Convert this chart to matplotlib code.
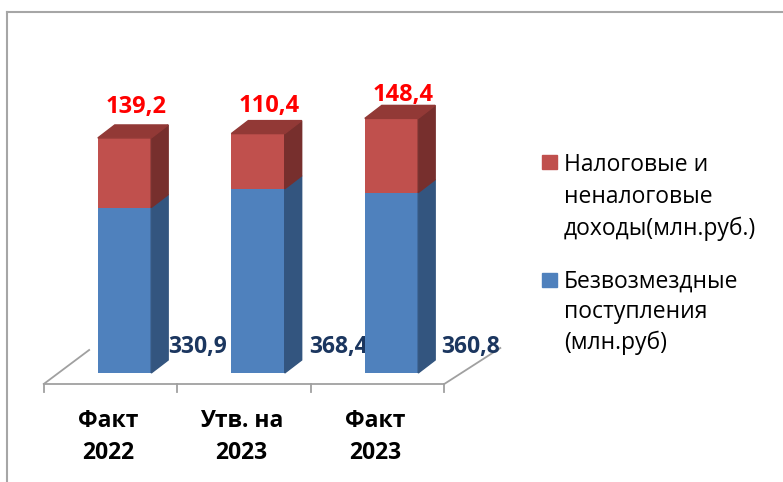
import numpy as np
import matplotlib
matplotlib.use('Agg')
import matplotlib.pyplot as plt
from matplotlib.patches import Polygon, Rectangle
from matplotlib.lines import Line2D

plt.rcParams['font.family'] = ['Open Sans', 'DejaVu Sans']

# data
categories = ['Факт\n2022', 'Утв. на\n2023', 'Факт\n2023']
gratuitous = [330.9, 368.4, 360.8]   # Безвозмездные поступления
tax_income = [139.2, 110.4, 148.4]   # Налоговые и неналоговые доходы
series_names = ['Налоговые и\nненалоговые\nдоходы(млн.руб.)',
                'Безвозмездные\nпоступления\n(млн.руб)']

# colours
blue, blue_side = '#4F81BD', '#33557F'
red, red_side, red_top = '#C0504D', '#772F2D', '#923936'
grey = '#A0A0A0'

# fake 3d geometry (data units)
bar_w = 0.4
shift = 0.105          # bars sit a bit behind the floor front edge
dx, dy = 0.127, 26     # bar depth
floor_y = -22
red_pad = [61, 56, 47]
blue_lab_x = [0.65, 0.71, 0.70]

fig = plt.figure(figsize=(7.83, 4.82), dpi=100)
ax = fig.add_axes([0, 0, 1, 1])
ax.set_xlim(-110.5 / 133.5, (783 - 110.5) / 133.5)
ax.set_ylim(-218, 746)
ax.axis('off')

x = np.arange(len(categories))
xf = x + shift

# floor
ax.plot([-0.5, 2.5], [floor_y, floor_y], color=grey, lw=1.3, zorder=1)
ax.plot([-0.5, -0.5 + 0.34], [floor_y, floor_y + 68], color=grey, lw=1.3, zorder=1)
ax.plot([2.5, 2.5 + 0.42], [floor_y, floor_y + 72], color=grey, lw=1.3, zorder=1)
for t in np.arange(-0.5, 3.0, 1.0):
    ax.plot([t, t], [floor_y, floor_y - 16], color=grey, lw=1.3, zorder=1)

# blue values under the bars
for i, v in enumerate(gratuitous):
    ax.text(i + blue_lab_x[i], 52, f'{v:.1f}'.replace('.', ','), ha='center', va='center',
            fontsize=16.5, fontweight='bold', color='#1B365F', zorder=2)

# front faces
ax.bar(xf, gratuitous, width=bar_w, color=blue, zorder=3)
ax.bar(xf, tax_income, width=bar_w, bottom=gratuitous, color=red, zorder=3)

# side and top faces
for i in range(len(categories)):
    xr = xf[i] + bar_w / 2
    xl = xf[i] - bar_w / 2
    b = gratuitous[i]
    top = b + tax_income[i]
    ax.add_patch(Polygon([(xr, 0), (xr + dx, dy), (xr + dx, b + dy), (xr, b)],
                         closed=True, color=blue_side, zorder=3))
    ax.add_patch(Polygon([(xr, b), (xr + dx, b + dy), (xr + dx, top + dy), (xr, top)],
                         closed=True, color=red_side, zorder=3))
    ax.add_patch(Polygon([(xl, top), (xr, top), (xr + dx, top + dy), (xl + dx, top + dy)],
                         closed=True, color=red_top, zorder=3))
    ax.text(i + 0.19, top + red_pad[i], f'{tax_income[i]:.1f}'.replace('.', ','),
            ha='center', va='center', fontsize=17, fontweight='bold', color='#FF0000', zorder=4)

# category labels
for i, c in enumerate(categories):
    ax.text(i - 0.02, -128, c, ha='center', va='center', fontsize=16.5,
            fontweight='bold', color='black', linespacing=1.45)

# legend
fig.patches.append(Rectangle((542 / 783, 1 - 169 / 482), 15 / 783, 14 / 482,
                             transform=fig.transFigure, color=red))
fig.patches.append(Rectangle((542 / 783, 1 - 287 / 482), 15 / 783, 14 / 482,
                             transform=fig.transFigure, color=blue))
fig.text(564 / 783, 1 - 153 / 482, series_names[0], ha='left', va='top',
         fontsize=16.5, color='black', linespacing=1.42)
fig.text(564 / 783, 1 - 270 / 482, series_names[1], ha='left', va='top',
         fontsize=16.5, color='black', linespacing=1.36)

# outer frame
fig.lines.append(Line2D([6.5 / 783, 6.5 / 783], [0, 1 - 12 / 482], transform=fig.transFigure,
                        color='#A6A6A6', lw=1.5))
fig.lines.append(Line2D([6.5 / 783, 1], [1 - 12 / 482, 1 - 12 / 482], transform=fig.transFigure,
                        color='#A6A6A6', lw=1.5))

fig.savefig('out.png', dpi=100, facecolor='white')
